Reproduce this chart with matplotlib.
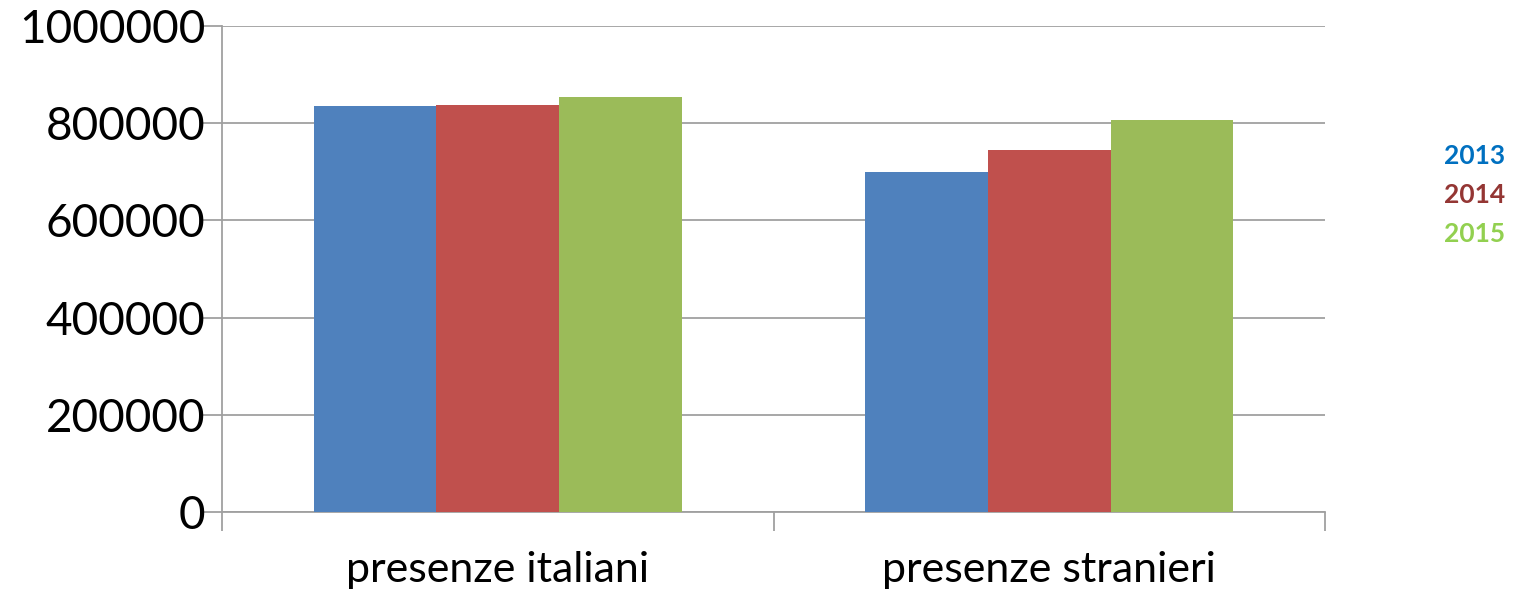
import matplotlib
matplotlib.use("Agg")
import matplotlib.pyplot as plt
import numpy as np

categories = ["presenze italiani", "presenze stranieri"]
years = ["2013", "2014", "2015"]
values_2013 = [835000, 699000]
values_2014 = [838000, 745500]
values_2015 = [853000, 806000]
series = [values_2013, values_2014, values_2015]
bar_colors = ["#4F81BD", "#C0504D", "#9BBB59"]
text_colors = ["#0070C0", "#943634", "#92D050"]
yticks = [0, 200000, 400000, 600000, 800000, 1000000]

plt.rcParams['font.family'] = ['Lato', 'DejaVu Sans']

fig = plt.figure(figsize=(15.17, 5.93), dpi=100)
ax = fig.add_axes([222/1517, 1-512/593, (1325-222)/1517, (512-26)/593])

x = np.arange(len(categories))
w = 2/9
for i, (vals, c) in enumerate(zip(series, bar_colors)):
    ax.bar(x + (i-1)*w, vals, width=w, color=c, edgecolor='none', zorder=3)

ax.set_xlim(-0.5, len(categories)-0.5)
ax.set_ylim(0, 1000000)
ax.set_yticks(yticks)
ax.set_yticklabels([str(v) for v in yticks], fontsize=33, color='black')
ax.yaxis.grid(True, color='#A0A0A0', linewidth=1.3, zorder=0)
ax.set_axisbelow(True)

ax.set_xticks(np.arange(-0.5, len(categories)), minor=False)
ax.set_xticklabels([])
ax.set_xticks(x, minor=True)
ax.set_xticklabels(categories, minor=True, fontsize=31)
ax.tick_params(axis='x', which='minor', length=0, pad=28)
ax.tick_params(axis='x', which='major', length=14, width=1.3, color='#A0A0A0', direction='out')
ax.tick_params(axis='y', length=14, width=1.3, color='#A0A0A0', direction='out', pad=-2)

for s in ['top', 'right']:
    ax.spines[s].set_visible(False)
ax.spines['left'].set_color('#A0A0A0')
ax.spines['left'].set_linewidth(1.3)
ax.spines['left'].set_bounds(0, 1000000)
ax.spines['bottom'].set_color('#A0A0A0')
ax.spines['bottom'].set_linewidth(1.3)

for i, (yr, c) in enumerate(zip(years, text_colors)):
    fig.text(1475/1517, 1-(156+39*i)/593, yr, color=c, fontsize=19, fontweight='bold',
             ha='center', va='center')

fig.savefig("out.png", dpi=100)
